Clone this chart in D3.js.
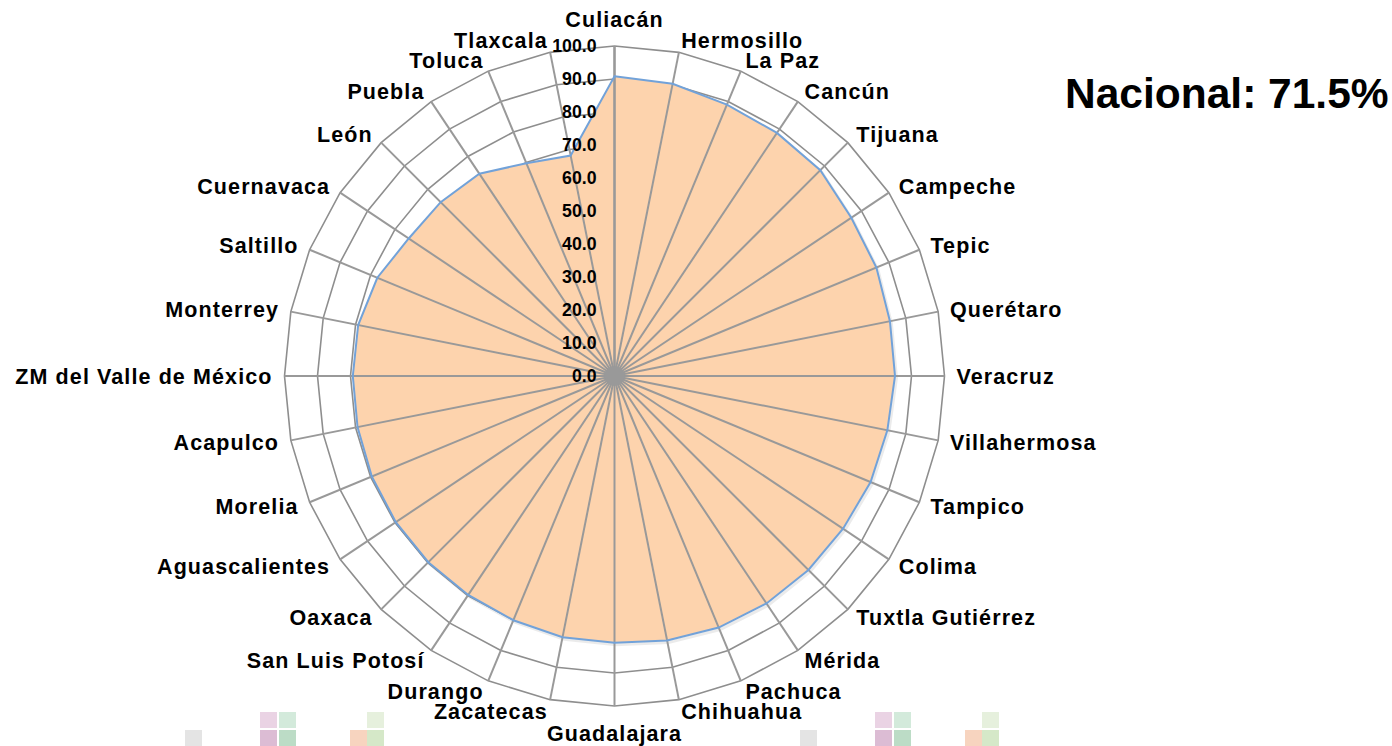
<!DOCTYPE html>
<html>
<head>
<meta charset="utf-8">
<script src="https://cdn.jsdelivr.net/npm/d3@7/dist/d3.min.js"></script>
<style>
  body { margin: 0; background: #fff; }
  text { font-family: "Liberation Sans", Arial, sans-serif; font-weight: bold; }
</style>
</head>
<body>
<div id="svg"></div>
<script>
// cities, clockwise from the top
var cities = ["Culiacán", "Hermosillo", "La Paz", "Cancún", "Tijuana", "Campeche", "Tepic",
  "Querétaro", "Veracruz", "Villahermosa", "Tampico", "Colima", "Tuxtla Gutiérrez", "Mérida",
  "Pachuca", "Chihuahua", "Guadalajara", "Zacatecas", "Durango", "San Luis Potosí", "Oaxaca",
  "Aguascalientes", "Morelia", "Acapulco", "ZM del Valle de México", "Monterrey", "Saltillo",
  "Cuernavaca", "León", "Puebla", "Toluca", "Tlaxcala"];

var values = [90.8, 90.3, 89.0, 88.6, 88.2, 86.3, 85.9, 85.1, 85.0, 84.3, 84.0, 83.3, 83.1,
  82.9, 82.5, 81.7, 80.8, 80.7, 80.1, 79.8, 79.8, 79.7, 79.6, 79.4, 79.3, 79.2, 77.8, 75.0,
  74.5, 73.7, 69.8, 68.1];

var ticks = [0, 10, 20, 30, 40, 50, 60, 70, 80, 90, 100];
var nacional = "Nacional: 71.5%";

var width = 1392;
var height = 746;
var cx = 614.5, cy = 376;
var R = 330;

var r = d3.scaleLinear().domain([0, 100]).range([0, R]);
var angle = d3.scaleLinear().domain([0, cities.length]).range([0, 2 * Math.PI]);

var svg = d3.select("#svg").append("svg")
  .attr("width", width)
  .attr("height", height);

// faint logo squares along the bottom
var logo = [
  [185, 730, "#e4e4e4"], [260, 712, "#ead3e4"], [279, 712, "#d3eadb"],
  [260, 730, "#dcbcd4"], [279, 730, "#bcdcc6"], [350, 730, "#f7d4bf"],
  [367, 712, "#e6f0dd"], [367, 730, "#d5e8c8"]
];
[0, 615].forEach(function(shift) {
  svg.append("g").selectAll("rect").data(logo).enter().append("rect")
    .attr("x", function(d) { return d[0] + shift; })
    .attr("y", function(d) { return d[1]; })
    .attr("width", 17).attr("height", 16)
    .attr("fill", function(d) { return d[2]; });
});

var g = svg.append("g").attr("transform", "translate(" + cx + "," + cy + ")");

function pt(i, v) {
  var a = angle(i);
  return [Math.sin(a) * r(v), -Math.cos(a) * r(v)];
}

// rings
var ring = d3.line().curve(d3.curveLinearClosed);
g.selectAll(".ring").data(ticks.slice(1)).enter().append("path")
  .attr("class", "ring")
  .attr("d", function(t) { return ring(cities.map(function(c, i) { return pt(i, t); })); })
  .attr("fill", "none")
  .attr("stroke", "#8e8e8e")
  .attr("stroke-width", 1.6);

// area
var area = d3.lineRadial()
  .angle(function(d, i) { return angle(i); })
  .radius(function(d) { return r(d); })
  .curve(d3.curveLinearClosed);

g.append("path")
  .attr("d", area(values))
  .attr("transform", "translate(1.5,2)")
  .attr("fill", "none")
  .attr("stroke", "#000")
  .attr("stroke-opacity", 0.08)
  .attr("stroke-width", 3);

g.append("path")
  .attr("d", area(values))
  .attr("fill", "#fdd3ad");

// spokes
g.selectAll(".spoke").data(cities).enter().append("line")
  .attr("class", "spoke")
  .attr("x1", 0).attr("y1", 0)
  .attr("x2", function(d, i) { return pt(i, 100)[0]; })
  .attr("y2", function(d, i) { return pt(i, 100)[1]; })
  .attr("stroke", "#999")
  .attr("stroke-width", function(d, i) { return i == 0 ? 2.6 : 2; });

g.append("circle").attr("r", 10).attr("fill", "#999");

g.append("path")
  .attr("d", area(values))
  .attr("fill", "none")
  .attr("stroke", "#72a2d9")
  .attr("stroke-width", 2);

// tick labels
g.selectAll(".tick").data(ticks).enter().append("text")
  .attr("class", "tick")
  .attr("x", -18)
  .attr("y", function(t) { return -r(t); })
  .attr("dy", "0.35em")
  .attr("text-anchor", "end")
  .attr("font-size", "17.7px")
  .text(function(t) { return t.toFixed(1); });

// city labels
g.selectAll(".city").data(cities).enter().append("text")
  .attr("class", "city")
  .attr("x", function(d, i) { return Math.sin(angle(i)) * 342; })
  .attr("y", function(d, i) {
    var c = Math.cos(angle(i)), s = Math.sin(angle(i));
    return -c * 342 + (Math.abs(s) < 0.01 ? -c * 15 : 0);
  })
  .attr("dy", "0.35em")
  .attr("text-anchor", function(d, i) {
    var s = Math.sin(angle(i));
    return Math.abs(s) < 0.01 ? "middle" : (s > 0 ? "start" : "end");
  })
  .attr("font-size", "21.5px")
  .attr("letter-spacing", "1.1px")
  .text(function(d) { return d; });

svg.append("text")
  .attr("x", 1065)
  .attr("y", 108)
  .attr("font-size", "42.5px")
  .text(nacional);
</script>
</body>
</html>
